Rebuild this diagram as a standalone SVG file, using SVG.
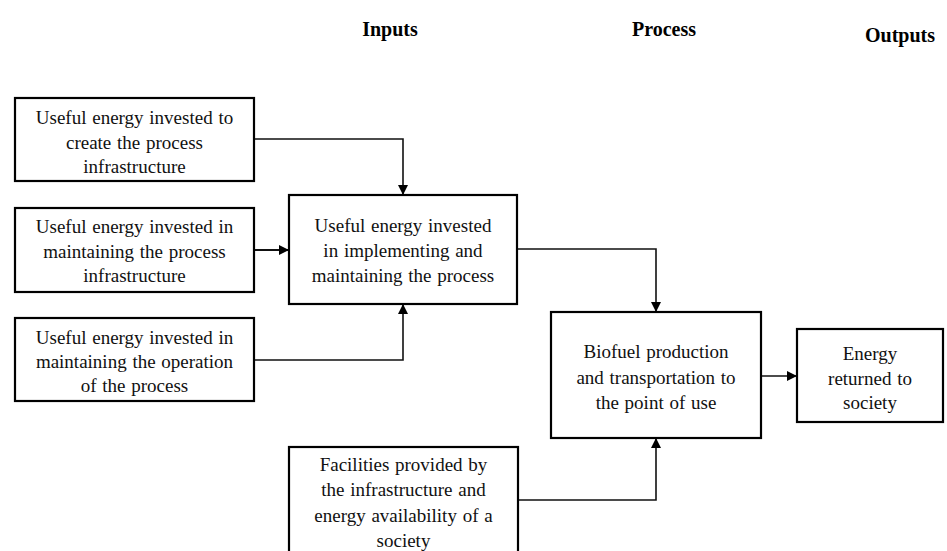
<svg xmlns="http://www.w3.org/2000/svg" width="947" height="551" viewBox="0 0 947 551">
<style>
.box{fill:#fff;stroke:#000;stroke-width:2.2}
.t{font-family:'Liberation Serif','DejaVu Serif',serif;font-size:19px;text-anchor:middle;fill:#111;word-spacing:1px}
.h{font-family:'Liberation Serif','DejaVu Serif',serif;font-size:20px;font-weight:bold;text-anchor:middle;fill:#000}
.c{fill:none;stroke:#111;stroke-width:1.6}
</style>
<defs>
<marker id="ah" markerWidth="10" markerHeight="10" refX="9" refY="5" orient="auto" markerUnits="userSpaceOnUse">
<path d="M0,0 L10,5 L0,10 Z" fill="#000"/>
</marker>
</defs>
<rect width="947" height="551" fill="#fff"/>
<g id="headers">
<text class="h" x="390" y="36">Inputs</text>
<text class="h" x="664" y="36">Process</text>
<text class="h" x="900" y="42">Outputs</text>
</g>
<g id="connectors">
<polyline class="c" points="254,139 403,139 403,194" marker-end="url(#ah)"/>
<polyline class="c" points="254,250 288,250" marker-end="url(#ah)" style="stroke-width:2.2"/>
<polyline class="c" points="254,360 403,360 403,305" marker-end="url(#ah)"/>
<polyline class="c" points="517,249 656,249 656,311" marker-end="url(#ah)"/>
<polyline class="c" points="761,376 796,376" marker-end="url(#ah)"/>
<polyline class="c" points="518,500 656,500 656,439" marker-end="url(#ah)"/>
</g>
<g id="n1">
<rect class="box" x="15" y="98" width="239" height="83"/>
<text class="t" x="134.5" y="124">Useful energy invested to</text>
<text class="t" x="134.5" y="149">create the process</text>
<text class="t" x="134.5" y="173">infrastructure</text>
</g>
<g id="n2">
<rect class="box" x="15" y="208" width="239" height="84"/>
<text class="t" x="134.5" y="233">Useful energy invested in</text>
<text class="t" x="134.5" y="258">maintaining the process</text>
<text class="t" x="134.5" y="282">infrastructure</text>
</g>
<g id="n3">
<rect class="box" x="15" y="318" width="239" height="83"/>
<text class="t" x="134.5" y="344">Useful energy invested in</text>
<text class="t" x="134.5" y="368">maintaining the operation</text>
<text class="t" x="134.5" y="392">of the process</text>
</g>
<g id="n4">
<rect class="box" x="289" y="195" width="228" height="109"/>
<text class="t" x="403" y="232">Useful energy invested</text>
<text class="t" x="403" y="257">in implementing and</text>
<text class="t" x="403" y="282">maintaining the process</text>
</g>
<g id="n5">
<rect class="box" x="551" y="312" width="210" height="126"/>
<text class="t" x="656" y="358">Biofuel production</text>
<text class="t" x="656" y="384">and transportation to</text>
<text class="t" x="656" y="409">the point of use</text>
</g>
<g id="n6">
<rect class="box" x="797" y="329" width="146" height="93"/>
<text class="t" x="870" y="360">Energy</text>
<text class="t" x="870" y="385">returned to</text>
<text class="t" x="870" y="409">society</text>
</g>
<g id="n7">
<rect class="box" x="289" y="447" width="229" height="110"/>
<text class="t" x="403.5" y="471">Facilities provided by</text>
<text class="t" x="403.5" y="496">the infrastructure and</text>
<text class="t" x="403.5" y="522">energy availability of a</text>
<text class="t" x="403.5" y="547">society</text>
</g>
</svg>
